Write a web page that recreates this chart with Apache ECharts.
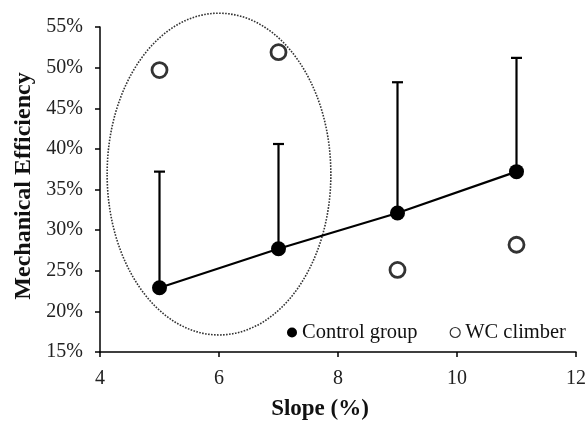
<!DOCTYPE html>
<html>
<head>
<meta charset="utf-8">
<script src="https://cdn.jsdelivr.net/npm/echarts@6/dist/echarts.min.js"></script>
<style>html,body{margin:0;padding:0;background:#fff}#c{width:588px;height:422px}</style>
</head>
<body>
<div id="c"></div>
<script>
var slopes = [5, 7, 9, 11];
var controlMean = [22.9, 27.7, 32.1, 37.2];
var controlUpper = [37.2, 40.6, 48.2, 51.2];
var wcClimber = [49.7, 51.9, 25.1, 28.2];
var yTicks = [15, 20, 25, 30, 35, 40, 45, 50, 55];
var xTicks = [4, 6, 8, 10, 12];
// highlight ellipse (data units): center x, center y, radius x, radius y
var ellipseCenter = [6, 36.9];
var ellipseRadius = [1.88, 19.8];

var FONT = 'Liberation Serif';
var chart = echarts.init(document.getElementById('c'), null, {renderer: 'canvas'});

var ctrlData = slopes.map(function (s, i) { return [s, controlMean[i]]; });
var wcData = slopes.map(function (s, i) { return [s, wcClimber[i]]; });
var errData = slopes.map(function (s, i) { return [s, controlMean[i], controlUpper[i]]; });

chart.setOption({
  animation: false,
  grid: {left: 100, right: 12, top: 27, bottom: 70, containLabel: false, outerBoundsMode: 'none'},
  xAxis: {
    type: 'value', min: xTicks[0], max: xTicks[xTicks.length - 1], interval: 2,
    axisLine: {lineStyle: {color: '#000', width: 1.5}},
    axisTick: {show: true, length: 5, lineStyle: {color: '#000', width: 1.5}},
    axisLabel: {color: '#222', fontFamily: FONT, fontSize: 20, margin: 17},
    splitLine: {show: false},
    name: 'Slope (%)', nameLocation: 'middle', nameGap: 46,
    nameTextStyle: {color: '#111', fontFamily: FONT, fontSize: 23, fontWeight: 'bold', padding: [0, 36, 0, 0]}
  },
  yAxis: {
    type: 'value', min: yTicks[0], max: yTicks[yTicks.length - 1], interval: 5,
    axisLine: {show: true, lineStyle: {color: '#000', width: 1.5}},
    axisTick: {show: true, length: 5, lineStyle: {color: '#000', width: 1.5}},
    axisLabel: {color: '#222', fontFamily: FONT, fontSize: 20, margin: 17, formatter: '{value}%'},
    splitLine: {show: false},
    name: 'Mechanical Efficiency', nameLocation: 'middle', nameGap: 62,
    nameTextStyle: {color: '#111', fontFamily: FONT, fontSize: 24, fontWeight: 'bold', padding: [0, 0, 0, 7]}
  },
  legend: {
    left: 287, top: 322, padding: 0, itemGap: 32, itemWidth: 10, itemHeight: 10,
    textStyle: {color: '#111', fontFamily: FONT, fontSize: 20.5},
    data: [
      {name: 'Control group', icon: 'circle', itemStyle: {color: '#000', borderWidth: 0}},
      {name: 'WC climber', icon: 'circle', itemStyle: {color: '#fff', borderColor: '#000', borderWidth: 1.2}}
    ]
  },
  series: [
    {
      name: 'Error', type: 'custom', data: errData, z: 1,
      renderItem: function (params, api) {
        var x = api.value(0);
        var p0 = api.coord([x, api.value(1)]);
        var p1 = api.coord([x, api.value(2)]);
        var cap = 5.5;
        return {
          type: 'group',
          children: [
            {type: 'line', shape: {x1: p0[0], y1: p0[1], x2: p1[0], y2: p1[1]}, style: {stroke: '#000', lineWidth: 2.2}},
            {type: 'line', shape: {x1: p1[0] - cap, y1: p1[1], x2: p1[0] + cap, y2: p1[1]}, style: {stroke: '#000', lineWidth: 2.2}}
          ]
        };
      }
    },
    {
      name: 'Control group', type: 'line', data: ctrlData, z: 3,
      symbol: 'circle', symbolSize: 15,
      itemStyle: {color: '#000'}, lineStyle: {color: '#000', width: 2.2}
    },
    {
      name: 'WC climber', type: 'scatter', data: wcData, z: 3,
      symbol: 'circle', symbolSize: 15,
      itemStyle: {color: '#fff', borderColor: '#000', borderWidth: 2.8}
    }
  ]
});

function drawEllipse() {
  var c = chart.convertToPixel({gridIndex: 0}, ellipseCenter);
  var ex = chart.convertToPixel({gridIndex: 0}, [ellipseCenter[0] + ellipseRadius[0], ellipseCenter[1] + ellipseRadius[1]]);
  chart.setOption({
    graphic: [{
      type: 'ellipse', z: 0,
      shape: {cx: c[0], cy: c[1], rx: Math.abs(ex[0] - c[0]), ry: Math.abs(c[1] - ex[1])},
      style: {fill: 'none', stroke: '#333', lineWidth: 1.6, lineDash: [1.6, 1.4]}
    }]
  });
}
drawEllipse();
</script>
</body>
</html>
